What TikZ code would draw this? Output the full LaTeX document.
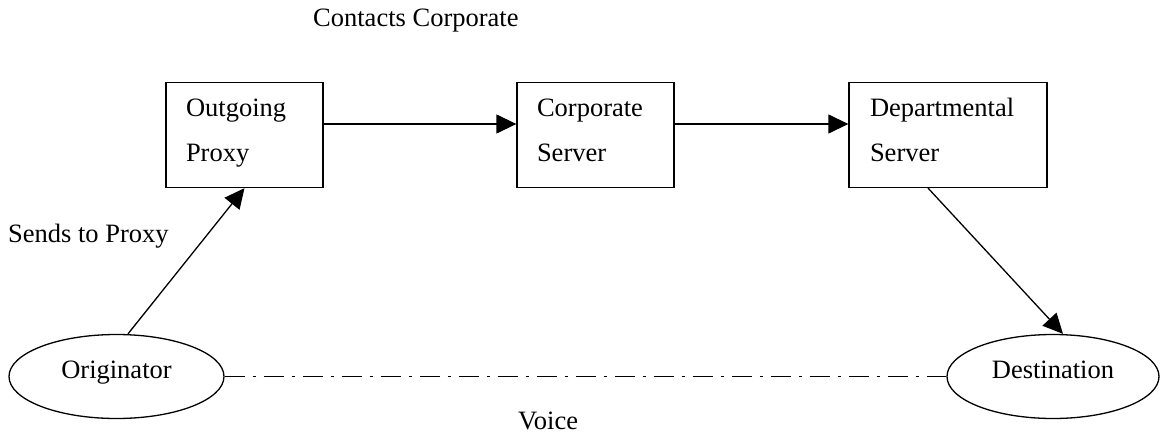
\documentclass[tikz,border=0pt]{standalone}
\usepackage{fontspec}
\setmainfont{Liberation Serif}
\usetikzlibrary{arrows.meta,shapes.geometric,calc}
% strut that keeps the two-line box texts at the same height
\newcommand\bxstrut{\rule[-11pt]{0pt}{31pt}}
\begin{document}
\begin{tikzpicture}[x=1pt,y=-1pt,
  every node/.style={font=\fontsize{26.5}{45}\selectfont},
  server/.style={draw,rectangle,line width=1.3pt,minimum height=105pt,
    inner xsep=20pt,inner ysep=0pt,align=left},
  endpoint/.style={draw,ellipse,line width=1.3pt,minimum height=84pt,
    inner sep=0pt,text height=12pt,text depth=9pt},
  flow/.style={line width=1.3pt,-{Triangle[length=20pt,width=19pt]}},
  voiceline/.style={line width=1.3pt,dash pattern=on 20pt off 8pt on 3pt off 8pt},
  caption/.style={anchor=base west,inner sep=0pt}]
  \useasboundingbox (0,0) rectangle (1160,436);

  % servers
  \node[server,text width=117pt] (proxy) at (244.5,135) {\bxstrut Outgoing\\\bxstrut Proxy};
  \node[server,text width=117pt] (corp) at (595.5,135) {\bxstrut Corporate\\\bxstrut Server};
  \node[server,text width=156pt,inner xsep=21pt] (dept) at (948,135) {\bxstrut Departmental\\\bxstrut Server};

  % end points
  \node[endpoint,minimum width=215pt] (orig) at (116.5,376.5) {Originator};
  \node[endpoint,minimum width=212pt] (dest) at (1053,376.5) {Destination};

  % signalling path
  \draw[flow] ($(orig.north)+(11.5,0)$) -- (proxy.south);
  \draw[flow] ($(proxy.east)+(0,-11)$) -- ($(corp.west)+(0,-11)$);
  \draw[flow] ($(corp.east)+(0,-11)$) -- ($(dept.west)+(0,-11)$);
  \draw[flow] ($(dept.south west)!0.4!(dept.south east)$) -- ($(dest.north)+(10,0)$);

  % media path
  \draw[voiceline] (orig.east) -- (dest.west);

  % labels
  \node[caption] (lcontacts) at (313,27) {Contacts Corporate};
  \node[caption] (lsends) at (8,242) {Sends to Proxy};
  \node[caption] (lvoice) at (518,429) {Voice};
\end{tikzpicture}
\end{document}
